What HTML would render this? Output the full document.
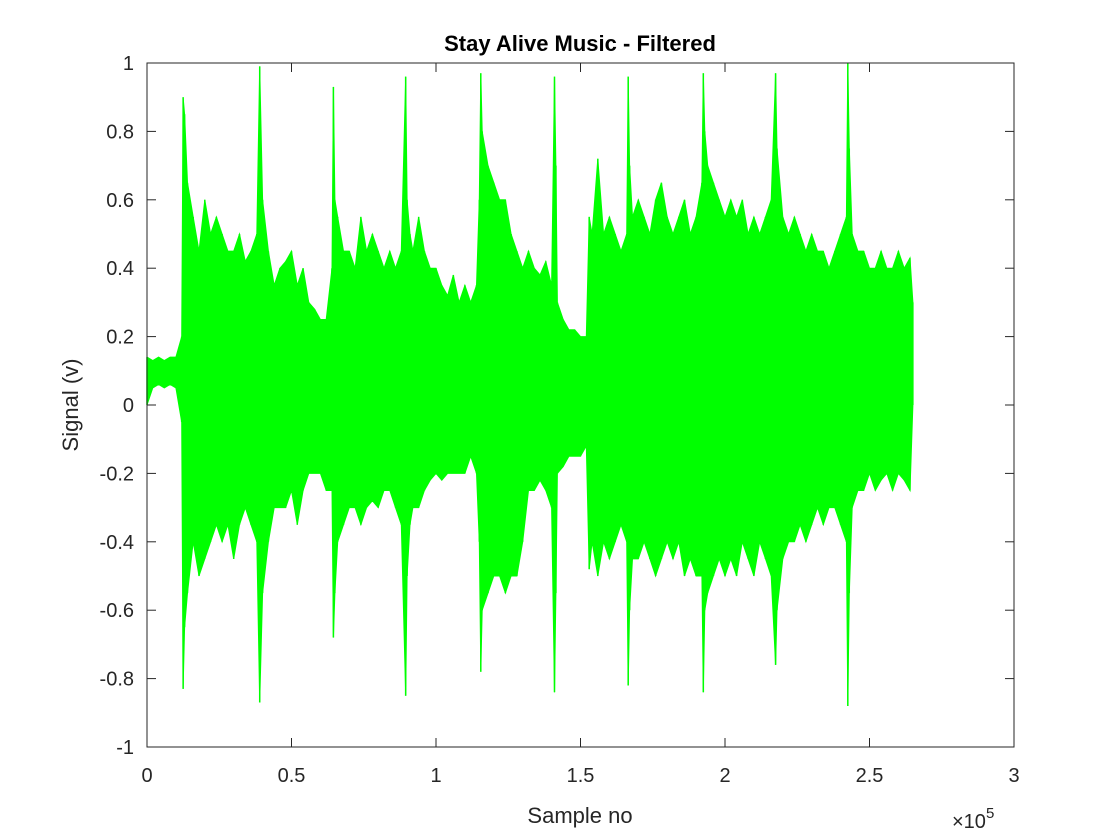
<!DOCTYPE html>
<html><head><meta charset="utf-8"><style>
body{margin:0;background:#fff;}
svg{display:block;font-family:"Liberation Sans",sans-serif;}
</style></head><body>
<svg id="chart" width="1120" height="840" viewBox="0 0 1120 840">
<rect x="0" y="0" width="1120" height="840" fill="#fff"/>
<text x="580" y="51" text-anchor="middle" font-size="22" font-weight="bold" fill="#000">Stay Alive Music - Filtered</text>
<g id="plot"></g>
<g id="axes"></g>
<text x="580" y="823" text-anchor="middle" font-size="22" fill="#262626">Sample no</text>
<text transform="translate(78,405) rotate(-90)" text-anchor="middle" font-size="22" fill="#262626">Signal (v)</text>
<text x="952" y="828" font-size="20" fill="#262626">×10<tspan dy="-10" font-size="15">5</tspan></text>
</svg>
<script>
// envelope data: sample index (thousands), upper and lower signal value
const sampleK = [0,2,4,6,8,10,12,
12.5,13,14,16,18,20,22,24,26,28,
30,32,34,36,38,39,40,42,44,46,
48,50,52,54,56,58,60,62,64,64.5,
65,66,68,70,72,74,76,78,80,82,
84,86,88,89.5,90,91,92,94,96,98,
100,102,104,106,108,110,112,114,115,115.5,
116,118,120,122,124,126,128,130,132,134,
136,138,140,141,141.5,142,144,146,148,150,
152,153,154,156,158,160,162,164,166,166.5,
167,168,170,172,174,176,178,180,182,184,
186,188,190,192,192.5,193,194,196,198,200,
202,204,206,208,210,212,214,216,217.5,218,
220,222,224,226,228,230,232,234,236,238,
240,242,242.5,243,244,246,248,250,252,254,
256,258,260,262,264,265];
const upper = [0.14,0.13,0.14,0.13,0.14,0.14,0.2,
0.9,0.85,0.65,0.55,0.45,0.6,0.5,0.55,0.5,0.45,
0.45,0.5,0.42,0.45,0.5,0.99,0.6,0.45,0.35,0.4,
0.42,0.45,0.35,0.4,0.3,0.28,0.25,0.25,0.4,0.93,
0.6,0.55,0.45,0.45,0.4,0.55,0.45,0.5,0.45,0.4,
0.45,0.4,0.45,0.96,0.6,0.5,0.45,0.55,0.45,0.4,
0.4,0.35,0.32,0.38,0.3,0.35,0.3,0.35,0.6,0.97,
0.8,0.7,0.65,0.6,0.6,0.5,0.45,0.4,0.45,0.4,
0.38,0.42,0.35,0.96,0.7,0.3,0.25,0.22,0.22,0.2,
0.2,0.55,0.5,0.72,0.5,0.55,0.5,0.45,0.5,0.96,
0.7,0.55,0.6,0.55,0.5,0.6,0.65,0.55,0.5,0.55,
0.6,0.5,0.55,0.65,0.97,0.8,0.7,0.65,0.6,0.55,
0.6,0.55,0.6,0.5,0.55,0.5,0.55,0.6,0.97,0.75,
0.55,0.5,0.55,0.5,0.45,0.5,0.45,0.45,0.4,0.45,
0.5,0.55,1.0,0.75,0.5,0.45,0.45,0.4,0.4,0.45,
0.4,0.4,0.45,0.4,0.43,0.3];
const lower = [0.0,0.05,0.06,0.05,0.06,0.05,-0.05,
-0.83,-0.65,-0.55,-0.4,-0.5,-0.45,-0.4,-0.35,-0.4,-0.35,
-0.45,-0.35,-0.3,-0.35,-0.4,-0.87,-0.55,-0.4,-0.3,-0.3,
-0.3,-0.25,-0.35,-0.25,-0.2,-0.2,-0.2,-0.25,-0.25,-0.68,
-0.55,-0.4,-0.35,-0.3,-0.3,-0.35,-0.3,-0.28,-0.3,-0.25,
-0.25,-0.3,-0.35,-0.85,-0.5,-0.35,-0.3,-0.3,-0.25,-0.22,
-0.2,-0.22,-0.2,-0.2,-0.2,-0.2,-0.15,-0.2,-0.4,-0.78,
-0.6,-0.55,-0.5,-0.5,-0.55,-0.5,-0.5,-0.4,-0.25,-0.25,
-0.22,-0.25,-0.3,-0.84,-0.55,-0.2,-0.18,-0.15,-0.15,-0.15,
-0.12,-0.48,-0.4,-0.5,-0.4,-0.45,-0.4,-0.35,-0.4,-0.82,
-0.6,-0.45,-0.45,-0.4,-0.45,-0.5,-0.45,-0.4,-0.45,-0.4,
-0.5,-0.45,-0.5,-0.5,-0.84,-0.6,-0.55,-0.5,-0.45,-0.5,
-0.45,-0.5,-0.4,-0.45,-0.5,-0.4,-0.45,-0.5,-0.76,-0.6,
-0.45,-0.4,-0.4,-0.35,-0.4,-0.35,-0.3,-0.35,-0.3,-0.3,
-0.35,-0.4,-0.88,-0.55,-0.3,-0.25,-0.25,-0.2,-0.25,-0.22,
-0.2,-0.25,-0.2,-0.22,-0.25,0.0];
const xTicks = [0,0.5,1,1.5,2,2.5,3];
const xTickLabels = ["0","0.5","1","1.5","2","2.5","3"];
const yTicks = [-1,-0.8,-0.6,-0.4,-0.2,0,0.2,0.4,0.6,0.8,1];
const yTickLabels = ["-1","-0.8","-0.6","-0.4","-0.2","0","0.2","0.4","0.6","0.8","1"];

const L=147,R=1014,T=63,B=747;
const xs = v => L + (v/3)*(R-L);          // v in units of 1e5
const ys = v => T + (1-v)/2*(B-T);
const NS='http://www.w3.org/2000/svg';
const plot=document.getElementById('plot'), axes=document.getElementById('axes');

let pts=[];
for(let i=0;i<sampleK.length;i++) pts.push(xs(sampleK[i]/100).toFixed(1)+','+ys(upper[i]).toFixed(1));
for(let i=sampleK.length-1;i>=0;i--) pts.push(xs(sampleK[i]/100).toFixed(1)+','+ys(lower[i]).toFixed(1));
const poly=document.createElementNS(NS,'polygon');
poly.setAttribute('points',pts.join(' '));
poly.setAttribute('fill','#00ff00');
poly.setAttribute('stroke','#00ff00');
poly.setAttribute('stroke-width','1');


plot.appendChild(poly);
for(let i=0;i<sampleK.length;i++){
  const ln=document.createElementNS(NS,'line');
  const x=xs(sampleK[i]/100);
  ln.setAttribute('x1',x);ln.setAttribute('x2',x);
  ln.setAttribute('y1',ys(upper[i]));ln.setAttribute('y2',ys(lower[i]));
  ln.setAttribute('stroke','#00ff00');ln.setAttribute('stroke-width','1.5');
  
  
  plot.appendChild(ln);
}

const box=document.createElementNS(NS,'rect');
box.setAttribute('x',L);box.setAttribute('y',T);box.setAttribute('width',R-L);box.setAttribute('height',B-T);
box.setAttribute('fill','none');box.setAttribute('stroke','#262626');box.setAttribute('stroke-width','1');


axes.appendChild(box);

xTicks.forEach((v,i)=>{
  const x=xs(v);
  [[B,B-9],[T,T+9]].forEach(([a,b])=>{
    const t=document.createElementNS(NS,'line');
    t.setAttribute('x1',x);t.setAttribute('x2',x);t.setAttribute('y1',a);t.setAttribute('y2',b);
    t.setAttribute('stroke','#262626');
    
    
    axes.appendChild(t);
  });
  const tx=document.createElementNS(NS,'text');
  tx.setAttribute('x',x);tx.setAttribute('y',782);tx.setAttribute('text-anchor','middle');
  tx.setAttribute('font-size','20');tx.setAttribute('fill','#262626');
  tx.textContent=xTickLabels[i];
  
  
  axes.appendChild(tx);
});
yTicks.forEach((v,i)=>{
  const y=ys(v);
  [[L,L+9],[R,R-9]].forEach(([a,b])=>{
    const t=document.createElementNS(NS,'line');
    t.setAttribute('x1',a);t.setAttribute('x2',b);t.setAttribute('y1',y);t.setAttribute('y2',y);
    t.setAttribute('stroke','#262626');
    
    
    axes.appendChild(t);
  });
  const tx=document.createElementNS(NS,'text');
  tx.setAttribute('x',134);tx.setAttribute('y',y+7);tx.setAttribute('text-anchor','end');
  tx.setAttribute('font-size','20');tx.setAttribute('fill','#262626');
  tx.textContent=yTickLabels[i];
  
  
  axes.appendChild(tx);
});
</script>
</body></html>
